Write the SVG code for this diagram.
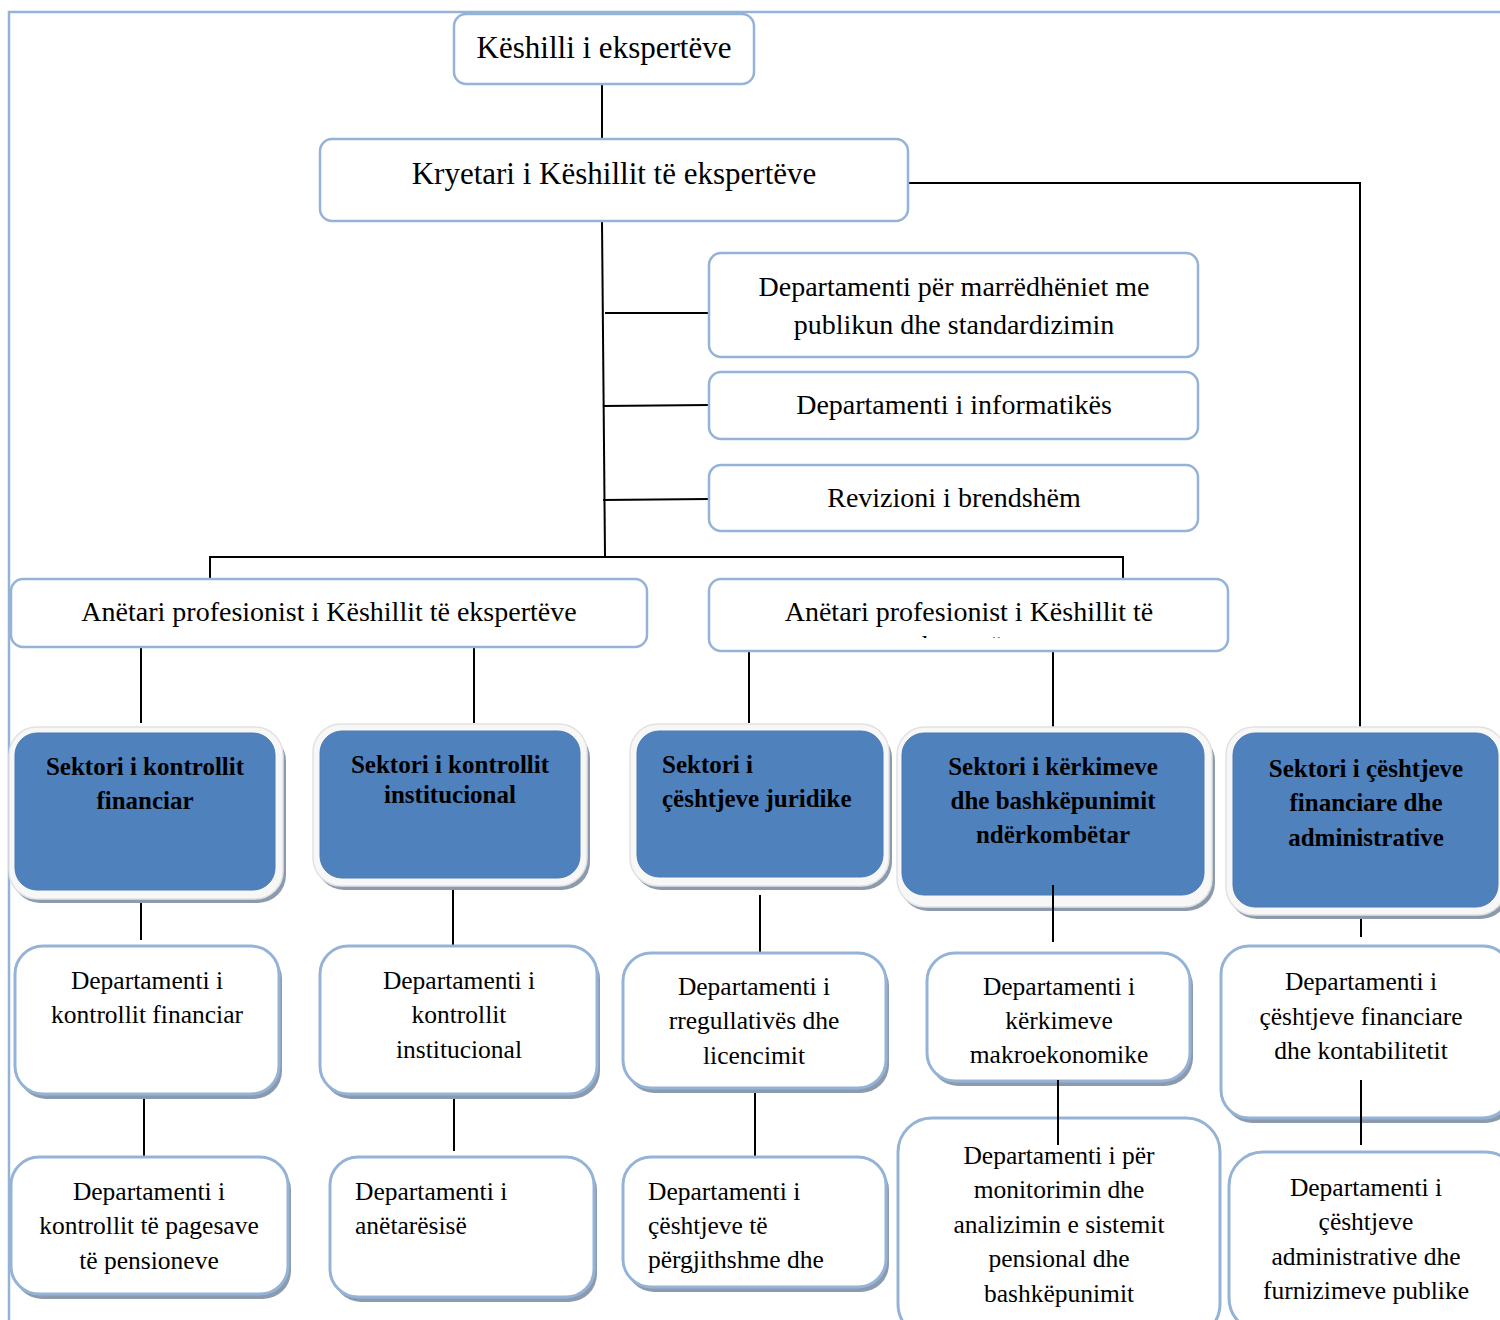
<svg xmlns="http://www.w3.org/2000/svg" width="1500" height="1320" viewBox="0 0 1500 1320">
<defs>
<style>
.box{fill:#fff;stroke:#95b3d7;stroke-width:2.5}
.dep{fill:#fff;stroke:#95b3d7;stroke-width:3}
.sh{fill:#8c9aae}
.sec-out{fill:#f7f7f7;stroke:#e2e2e2;stroke-width:1.5}
.sec-in{fill:#4f81bd;stroke:#4a7ab4;stroke-width:1}
.t{font-family:"Liberation Serif",serif;font-size:28px;fill:#000}
.tb{font-family:"Liberation Serif",serif;font-size:25px;font-weight:bold;fill:#000}
.d{font-family:"Liberation Serif",serif;font-size:25.5px;fill:#000}
.c{text-anchor:middle}
.ln{stroke:#000;stroke-width:2;fill:none}
</style>
<clipPath id="clipA"><rect x="709" y="579" width="519" height="59"/></clipPath>
</defs>
<rect width="1500" height="1320" fill="#fff"/>
<path d="M9,1320 V12 H1500" fill="none" stroke="#95b3d7" stroke-width="2.5"/>

<g id="connectors">
<path class="ln" d="M602,84 V139"/>
<path class="ln" d="M908,183 H1360 V727"/>
<path class="ln" d="M602,222 L605,557"/>
<path class="ln" d="M605,313 H709"/>
<path class="ln" d="M603,406 L709,405"/>
<path class="ln" d="M603,500 L709,499"/>
<path class="ln" d="M210,579 V557 H1123 V579"/>
<path class="ln" d="M141,648 V723"/>
<path class="ln" d="M474,648 V723"/>
<path class="ln" d="M749,648 V723"/>
<path class="ln" d="M1053,652 V727"/>
<path class="ln" d="M141,899 V940"/>
<path class="ln" d="M453,888 V947"/>
<path class="ln" d="M760,895 V952"/>
<path class="ln" d="M1361,915 V937"/>
<path class="ln" d="M144,1098 V1157"/>
<path class="ln" d="M454,1094 V1151"/>
<path class="ln" d="M755,1086 V1156"/>
</g>

<g id="n1"><rect class="box" x="454" y="14" width="300" height="70" rx="12"/><text class="t c" x="604" y="58" style="font-size:31px">Këshilli i ekspertëve</text></g>
<g id="n2"><rect class="box" x="320" y="139" width="588" height="82" rx="12"/><text class="t c" x="614" y="184" style="font-size:31px">Kryetari i Këshillit të ekspertëve</text></g>
<g id="n3"><rect class="box" x="709" y="253" width="489" height="104" rx="12"/><text class="t c" x="954" y="296">Departamenti për marrëdhëniet me</text><text class="t c" x="954" y="334">publikun dhe standardizimin</text></g>
<g id="n4"><rect class="box" x="709" y="372" width="489" height="67" rx="12"/><text class="t c" x="954" y="414">Departamenti i informatikës</text></g>
<g id="n5"><rect class="box" x="709" y="465" width="489" height="66" rx="12"/><text class="t c" x="954" y="507">Revizioni i brendshëm</text></g>
<g id="n6"><rect class="box" x="11" y="579" width="636" height="68" rx="12"/><text class="t c" x="329" y="621">Anëtari profesionist i Këshillit të ekspertëve</text></g>
<g id="n7"><rect class="box" x="709" y="579" width="519" height="72" rx="12"/><text class="t c" x="969" y="621">Anëtari profesionist i Këshillit të</text><text class="t c" x="969" y="655" clip-path="url(#clipA)">ekspertëve</text></g>

<g id="s1"><rect class="sh" x="12" y="733" width="274" height="170" rx="28"/><rect class="sec-out" x="9" y="727" width="274" height="172" rx="28"/><rect class="sec-in" x="15" y="733" width="260" height="157" rx="22"/><text class="tb c" x="145" y="775">Sektori i kontrollit</text><text class="tb c" x="145" y="809">financiar</text></g>
<g id="s2"><rect class="sh" x="316" y="730" width="274" height="160" rx="28"/><rect class="sec-out" x="313" y="724" width="274" height="162" rx="28"/><rect class="sec-in" x="320" y="731" width="260" height="147" rx="22"/><text class="tb c" x="450" y="773">Sektori i kontrollit</text><text class="tb c" x="450" y="803">institucional</text></g>
<g id="s3"><rect class="sh" x="633" y="730" width="259" height="160" rx="28"/><rect class="sec-out" x="630" y="724" width="259" height="162" rx="28"/><rect class="sec-in" x="637" y="731" width="246" height="146" rx="22"/><text class="tb" x="662" y="773">Sektori i</text><text class="tb" x="662" y="807">çështjeve juridike</text></g>
<g id="s4"><rect class="sh" x="900" y="733" width="315" height="178" rx="28"/><rect class="sec-out" x="897" y="727" width="315" height="180" rx="28"/><rect class="sec-in" x="902" y="733" width="302" height="162" rx="22"/><text class="tb c" x="1053" y="775">Sektori i kërkimeve</text><text class="tb c" x="1053" y="809">dhe bashkëpunimit</text><text class="tb c" x="1053" y="843">ndërkombëtar</text></g>
<g id="s5"><rect class="sh" x="1229" y="733" width="280" height="186" rx="28"/><rect class="sec-out" x="1226" y="727" width="280" height="188" rx="28"/><rect class="sec-in" x="1233" y="733" width="265" height="174" rx="22"/><text class="tb c" x="1366" y="777">Sektori i çështjeve</text><text class="tb c" x="1366" y="811">financiare dhe</text><text class="tb c" x="1366" y="846">administrative</text></g>

<g id="s4line"><path class="ln" d="M1053,885 V942"/></g>

<g id="d1"><rect class="sh" x="18" y="951" width="264" height="148" rx="28"/><rect class="dep" x="15" y="946" width="264" height="148" rx="28"/><text class="d c" x="147" y="989">Departamenti i</text><text class="d c" x="147" y="1023">kontrollit financiar</text></g>
<g id="d2"><rect class="sh" x="323" y="951" width="277" height="148" rx="28"/><rect class="dep" x="320" y="946" width="277" height="148" rx="28"/><text class="d c" x="459" y="989">Departamenti i</text><text class="d c" x="459" y="1023">kontrollit</text><text class="d c" x="459" y="1058">institucional</text></g>
<g id="d3"><rect class="sh" x="626" y="958" width="263" height="135" rx="28"/><rect class="dep" x="623" y="953" width="263" height="135" rx="28"/><text class="d c" x="754" y="995">Departamenti i</text><text class="d c" x="754" y="1029">rregullativës dhe</text><text class="d c" x="754" y="1064">licencimit</text></g>
<g id="d4"><rect class="sh" x="930" y="958" width="263" height="128" rx="28"/><rect class="dep" x="927" y="953" width="263" height="128" rx="28"/><text class="d c" x="1059" y="995">Departamenti i</text><text class="d c" x="1059" y="1029">kërkimeve</text><text class="d c" x="1059" y="1063">makroekonomike</text></g>
<g id="d5"><rect class="sh" x="1224" y="951" width="290" height="172" rx="28"/><rect class="dep" x="1221" y="946" width="290" height="172" rx="28"/><text class="d c" x="1361" y="990">Departamenti i</text><text class="d c" x="1361" y="1025">çështjeve financiare</text><text class="d c" x="1361" y="1059">dhe kontabilitetit</text></g>

<g id="e1"><rect class="sh" x="14" y="1162" width="277" height="137" rx="28"/><rect class="dep" x="11" y="1157" width="277" height="137" rx="28"/><text class="d c" x="149" y="1200">Departamenti i</text><text class="d c" x="149" y="1234">kontrollit të pagesave</text><text class="d c" x="149" y="1269">të pensioneve</text></g>
<g id="e2"><rect class="sh" x="333" y="1162" width="264" height="140" rx="28"/><rect class="dep" x="330" y="1157" width="264" height="140" rx="28"/><text class="d" x="355" y="1200">Departamenti i</text><text class="d" x="355" y="1234">anëtarësisë</text></g>
<g id="e3"><rect class="sh" x="626" y="1162" width="263" height="130" rx="28"/><rect class="dep" x="623" y="1157" width="263" height="130" rx="28"/><text class="d" x="648" y="1200">Departamenti i</text><text class="d" x="648" y="1234">çështjeve të</text><text class="d" x="648" y="1268">përgjithshme dhe</text></g>
<g id="e4"><rect class="dep" x="898" y="1118" width="322" height="220" rx="34"/><text class="d c" x="1059" y="1164">Departamenti i për</text><text class="d c" x="1059" y="1198">monitorimin dhe</text><text class="d c" x="1059" y="1233">analizimin e sistemit</text><text class="d c" x="1059" y="1267">pensional dhe</text><text class="d c" x="1059" y="1302">bashkëpunimit</text></g>
<g id="e5"><rect class="dep" x="1229" y="1152" width="290" height="180" rx="34"/><text class="d c" x="1366" y="1196">Departamenti i</text><text class="d c" x="1366" y="1230">çështjeve</text><text class="d c" x="1366" y="1265">administrative dhe</text><text class="d c" x="1366" y="1299">furnizimeve publike</text></g>

<g id="connectors2">
<path class="ln" d="M1058,1080 V1145"/>
<path class="ln" d="M1361,1080 V1145"/>
</g>
</svg>
